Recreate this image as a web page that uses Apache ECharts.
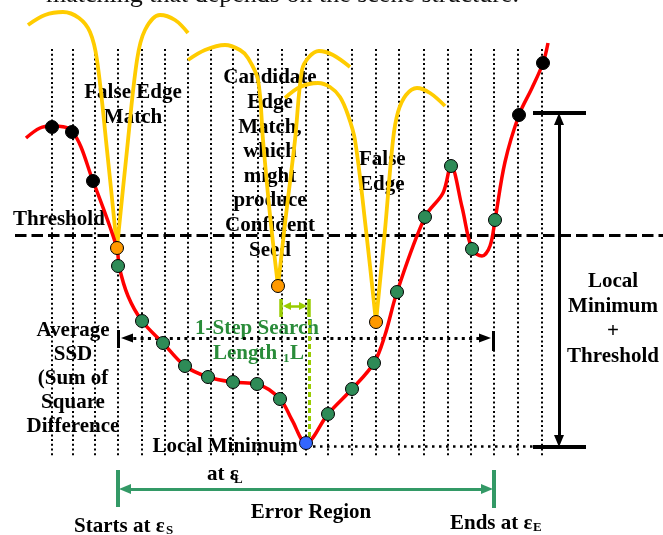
<!DOCTYPE html>
<html>
<head>
<meta charset="utf-8">
<script src="https://cdn.jsdelivr.net/npm/echarts@6/dist/echarts.min.js"></script>
<style>
html,body{margin:0;padding:0;background:#fff;}
#chart{width:663px;height:535px;}
</style>
</head>
<body>
<div id="chart"></div>
<script>
// ---------- data (diagram units: x = step position, y = SSD, inverted) ----------
const gridX = [52,73,95,118,142,165,188,211,233,258,282,306,328,352,376,399,424,448,471,494,518,542];
const gridTop = 49, gridBottom = 457;
const thresholdY = 235;

const redX = [26,40,52,72,93,117,119,128,142,163,185,208,233,257,280,292,306,328,352,374,385,397,425,443,451,462,472,482,490,495,505,519,532,543,548];
const redY = [138,128,126,131,181,248,266,296,321,343,366,377,382,384,399,420,443,414,389,363,335,292,217,193,166,207,249,256,246,220,162,115,88,63,43];

const yellowA1 = [[28,25],[45,15],[63,12],[79,18],[90,32],[97,60],[107,150],[117,248]];
const yellowA2 = [[117,248],[127,150],[137,60],[145,30],[160,15],[175,20],[188,33]];
const yellowB1 = [[188,60],[205,50],[225,45],[240,50],[248,58],[258,80],[263,140],[270,215],[278,286]];
const yellowB2 = [[278,286],[286,215],[295,140],[302,70],[309,57],[319,51],[333,55],[350,67]];
const yellowC1 = [[285,98],[300,87],[318,83],[330,87],[340,97],[348,115],[355,140],[366,230],[376,322]];
const yellowC2 = [[376,322],[385,230],[393,140],[398,112],[406,95],[417,88],[430,93],[445,106]];

const blackDots  = [[52,127],[72,132],[93,181],[519,115],[543,63]];
const orangeDots = [[117,248],[278,286],[376,322]];
const greenDots  = [[118,266],[142,321],[163,343],[185,366],[208,377],[233,382],[257,384],[280,399],[328,414],[352,389],[374,363],[397,292],[425,217],[451,166],[472,249],[495,220]];
const blueDots   = [[306,443]];

const localMinY = 446;
const errStartX = 118, errEndX = 494, errY = 489;
const ssdY = 338;
const rangeX = 559, rangeTop = 113, rangeBottom = 447;
const stepX0 = 281, stepX1 = 309;

const txtTop = 'matching that depends on the scene structure.';
const txtThreshold = 'Threshold';
const txtFalseEdgeMatch = ['False Edge','Match'];
const txtCandidate = ['Candidate','Edge','Match,','which','might','produce','Confident','Seed'];
const txtFalseEdge = ['False','Edge'];
const txtAvgSSD = ['Average','SSD','(Sum of','Square','Difference'];
const txtLMT = ['Local','Minimum','+','Threshold'];
const txtStep = ['1-Step Search','Length '];
const txtLocalMin = 'Local Minimum';
const txtErrorRegion = 'Error Region';

// ---------- helpers ----------
const FONT = '"Liberation Serif","Times New Roman",serif';
function T(text, x, y, opts) {
  opts = opts || {};
  const size = opts.size || 21;
  return {
    type: 'text', z: 0, silent: true,
    style: {
      text: text, x: x, y: y,
      font: (opts.weight || 'bold') + ' ' + size + 'px ' + FONT,
      fill: opts.color || '#000',
      align: opts.align || 'center', textAlign: opts.align || 'center',
      verticalAlign: 'middle', textVerticalAlign: 'middle',
      lineHeight: opts.lh || size
    }
  };
}
function block(lines, cx, firstY, lh, opts) {
  opts = Object.assign({}, opts || {});
  opts.lh = lh;
  return lines.map((l, i) => T(l, cx, firstY + i * lh, opts));
}
function seg(a, b) { return { coords: [a, b] }; }
function linesSeries(data, color, width, type, z) {
  return {
    type: 'lines', coordinateSystem: 'cartesian2d', polyline: false, silent: true,
    data: data, z: z || 3, symbol: 'none',
    lineStyle: { color: color, width: width, type: type || 'solid', opacity: 1, cap: 'butt' }
  };
}
function yellow(pts) {
  return {
    type: 'line', data: pts, smooth: 0.35, showSymbol: false, silent: true, z: 4,
    lineStyle: { color: '#FFCC00', width: 3.8 }, clip: false
  };
}
function dots(pts, color, size, z) {
  return {
    type: 'scatter', data: pts, symbol: 'circle', symbolSize: size, silent: true, z: z || 8,
    itemStyle: { color: color, borderColor: '#000', borderWidth: 1, opacity: 1 }
  };
}
function heads(items, color, z) {
  return {
    type: 'scatter', symbol: 'triangle', silent: true, z: z || 7,
    data: items.map(h => ({ value: [h[0], h[1]], symbolRotate: h[2], symbolSize: h[3] })),
    itemStyle: { color: color, opacity: 1 }
  };
}

const chart = echarts.init(document.getElementById('chart'), null, { renderer: 'canvas' });

const graphics = [].concat(
  [T(txtTop, 46, -5, { weight: 'normal', size: 26, align: 'left', color: '#111' })],
  [T(txtThreshold, 13, 220, { align: 'left' })],
  block(txtFalseEdgeMatch, 133, 93, 24.5),
  block(txtCandidate, 270, 78, 24.6),
  block(txtFalseEdge, 359, 160, 24.5, { align: 'left' }),
  block(txtAvgSSD, 73, 331, 24),
  block(txtLMT, 613, 282, 24.7),
  [T(txtStep[0], 257, 329, { color: '#2A8C3A' }),
   T(txtStep[1], 213, 354, { color: '#2A8C3A', align: 'left' }),
   T('1', 283, 359, { color: '#2A8C3A', align: 'left', size: 13 }),
   T('L', 290, 354, { color: '#2A8C3A', align: 'left' })],
  [T(txtLocalMin, 225, 447),
   T('at ε', 207, 475, { align: 'left' }),
   T('L', 234, 480, { align: 'left', size: 13 })],
  [T(txtErrorRegion, 311, 513)],
  [T('Starts at ε', 74, 527, { align: 'left' }),
   T('S', 166, 531, { align: 'left', size: 13 })],
  [T('Ends at ε', 450, 524, { align: 'left' }),
   T('E', 533, 528, { align: 'left', size: 13 })]
);

const series = [
  // vertical dotted step lines
  linesSeries(gridX.map(x => seg([x, gridTop], [x, gridBottom])), '#000', 2, [2, 2.7], 2),
  // threshold dashed line
  linesSeries([seg([15, thresholdY], [663, thresholdY])], '#000', 3, [11.5, 5], 3),
  // local minimum dotted line
  linesSeries([seg([306, localMinY], [533, localMinY])], '#000', 2.5, [2.5, 4.5], 3),
  // average SSD dotted arrow
  linesSeries([seg([126, ssdY], [486, ssdY])], '#000', 3, [3, 4.3], 3),
  linesSeries([seg([118, 330], [118, 348]), seg([493, 331], [493, 351])], '#000', 3, 'solid', 3),
  heads([[127, ssdY, 90, [9, 12]], [485, ssdY, -90, [9, 12]]], '#000'),
  // local minimum + threshold range arrow
  linesSeries([seg([rangeX, rangeTop + 6], [rangeX, rangeBottom - 6])], '#000', 3, 'solid', 3),
  linesSeries([seg([533, rangeTop], [586, rangeTop]), seg([533, rangeBottom], [586, rangeBottom])], '#000', 4, 'solid', 3),
  heads([[rangeX, rangeTop + 6, 0, [10, 12]], [rangeX, rangeBottom - 6, 180, [10, 12]]], '#000'),
  // error region arrow
  linesSeries([seg([errStartX + 6, errY], [errEndX - 6, errY])], '#339966', 3, 'solid', 3),
  linesSeries([seg([errStartX, 470], [errStartX, 507]), seg([errEndX, 470], [errEndX, 508])], '#339966', 4, 'solid', 3),
  heads([[errStartX + 7, errY, 90, [10, 12]], [errEndX - 7, errY, -90, [10, 12]]], '#339966'),
  // 1-step search length marker
  linesSeries([seg([stepX0, 299], [stepX0, 317]), seg([stepX1, 299], [stepX1, 317])], '#99CC00', 3.5, 'solid', 3),
  linesSeries([seg([stepX0 + 5, 306], [stepX1 - 5, 306])], '#99CC00', 2.5, 'solid', 3),
  heads([[stepX0 + 6, 306, 90, [8, 8]], [stepX1 - 6, 306, -90, [8, 8]]], '#99CC00'),
  linesSeries([seg([stepX1, 320], [stepX1, 440])], '#99CC00', 3, [5, 3], 3),
  // yellow matching curves
  yellow(yellowA1), yellow(yellowA2), yellow(yellowB1), yellow(yellowB2), yellow(yellowC1), yellow(yellowC2),
  // red SSD curve
  {
    type: 'line', data: redX.map((x, i) => [x, redY[i]]), smooth: 0.35, showSymbol: false, silent: true, z: 5,
    lineStyle: { color: '#FF0000', width: 3.5 }, clip: false
  },
  dots(blackDots, '#000', 13),
  dots(orangeDots, '#FF9900', 13),
  dots(greenDots, '#2E8B57', 13),
  dots(blueDots, '#3366FF', 13)
];

chart.setOption({
  animation: false,
  backgroundColor: '#fff',
  grid: { left: 0, right: 0, top: 0, bottom: 0 },
  xAxis: { type: 'value', min: 0, max: 663, show: false },
  yAxis: { type: 'value', min: 0, max: 535, inverse: true, show: false },
  graphic: { elements: graphics },
  series: series
});
</script>
</body>
</html>
